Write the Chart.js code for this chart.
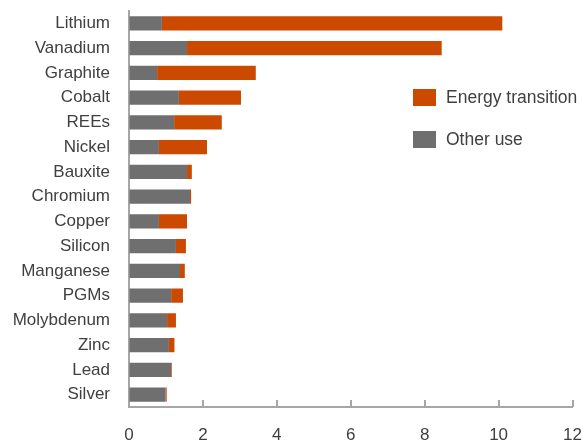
<!DOCTYPE html>
<html>
<head>
<meta charset="utf-8">
<script src="https://cdn.jsdelivr.net/npm/chart.js@4"></script>
<style>
  html, body { margin: 0; padding: 0; background: #fff; }
  #wrap { width: 582px; height: 440px; }
</style>
</head>
<body>
<div id="wrap"><canvas id="chart"></canvas></div>
<script>
const minerals = ['Lithium', 'Vanadium', 'Graphite', 'Cobalt', 'REEs', 'Nickel', 'Bauxite', 'Chromium',
  'Copper', 'Silicon', 'Manganese', 'PGMs', 'Molybdenum', 'Zinc', 'Lead', 'Silver']
const otherUse = [0.89, 1.57, 0.76, 1.35, 1.22, 0.81, 1.57, 1.65, 0.81, 1.27, 1.38, 1.14, 1.03, 1.08, 1.14, 0.99]
const energyTransition = [9.21, 6.89, 2.67, 1.68, 1.29, 1.30, 0.13, 0.03, 0.76, 0.27, 0.13, 0.32, 0.24, 0.15, 0.02, 0.03]
const xTicks = [0, 2, 4, 6, 8, 10, 12]

const FONT = "'Liberation Sans', Arial, sans-serif"
const TEXT = '#404040'
const AXIS = '#a6a6a6'
const ORANGE = '#cc4a00'
const GREY = '#6f6f6f'

// inward tick marks on the x axis + legend placed inside the plot
const extras = {
  id: 'extras',
  afterDraw(chart) {
    const ctx = chart.ctx
    const x = chart.scales.x
    const bottom = chart.chartArea.bottom
    ctx.save()
    ctx.strokeStyle = AXIS
    ctx.lineWidth = 2
    xTicks.slice(1).forEach(v => {
      const px = Math.round(x.getPixelForValue(v))
      ctx.beginPath()
      ctx.moveTo(px, bottom - 7)
      ctx.lineTo(px, bottom)
      ctx.stroke()
    })
    const items = [
      { label: 'Energy transition', color: ORANGE, y: 89 },
      { label: 'Other use', color: GREY, y: 131 }
    ]
    ctx.font = '17.5px ' + FONT
    ctx.textBaseline = 'middle'
    items.forEach(it => {
      ctx.fillStyle = it.color
      ctx.fillRect(413, it.y, 23, 17)
      ctx.fillStyle = TEXT
      ctx.fillText(it.label, 446, it.y + 9)
    })
    ctx.restore()
  }
}

new Chart(document.getElementById('chart'), {
  type: 'bar',
  data: {
    labels: minerals,
    datasets: [
      { label: 'Other use', data: otherUse, backgroundColor: GREY, borderWidth: 0 },
      { label: 'Energy transition', data: energyTransition, backgroundColor: ORANGE, borderWidth: 0 }
    ]
  },
  options: {
    indexAxis: 'y',
    responsive: true,
    maintainAspectRatio: false,
    animation: false,
    layout: { padding: { top: 11 } },
    datasets: { bar: { barPercentage: 0.58, categoryPercentage: 1 } },
    plugins: { legend: { display: false }, tooltip: { enabled: false } },
    scales: {
      x: {
        stacked: true,
        min: 0,
        max: 12,
        ticks: { stepSize: 2, color: TEXT, font: { family: FONT, size: 17 }, padding: 0, maxRotation: 0, autoSkip: false },
        grid: { drawOnChartArea: false, tickLength: 18, tickColor: 'transparent' },
        border: { color: AXIS, width: 2 },
        afterFit: s => { s.height = 33 }
      },
      y: {
        stacked: true,
        ticks: { color: TEXT, font: { family: FONT, size: 17 }, padding: 0, autoSkip: false },
        grid: { drawOnChartArea: false, tickLength: 19, tickColor: 'transparent' },
        border: { color: AXIS, width: 2 },
        afterFit: s => { s.width = 129 }
      }
    }
  },
  plugins: [extras]
})
</script>
</body>
</html>
